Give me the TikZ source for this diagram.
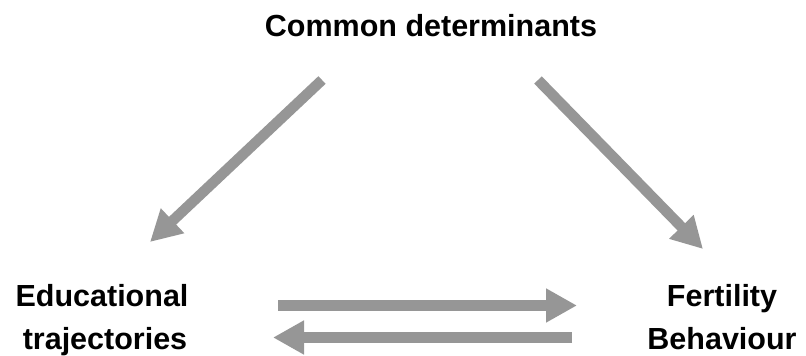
\documentclass[tikz,border=0pt]{standalone}
\usepackage{fontspec}
\setmainfont{Liberation Sans}
\usetikzlibrary{arrows.meta}
\definecolor{arrowgray}{HTML}{969696}
\tikzset{
  label/.style={font=\bfseries\fontsize{30.5}{44}\selectfont, inner sep=0pt, anchor=base},
  flow/.style={draw=arrowgray, line width=10.5pt, line cap=butt,
    -{Triangle[width=32pt,length=31pt]}},
}
\begin{document}
\begin{tikzpicture}[x=1pt,y=-1pt]
  \useasboundingbox (0,0) rectangle (806,356);

  % labels
  \node[label] (common) at (431,36) {Common determinants};
  \node[label] (edu1) at (102,306) {Educational};
  \node[label] (edu2) at (105,349) {trajectories};
  \node[label] (fer1) at (722,306) {Fertility};
  \node[label] (fer2) at (722,349) {Behaviour};

  % arrow end points
  \coordinate (cl) at (322,80);
  \coordinate (el) at (150,242);
  \coordinate (cr) at (538,80);
  \coordinate (fr) at (703,249);
  \coordinate (ea) at (278,305.5);
  \coordinate (fa) at (577,305.5);
  \coordinate (fb) at (572,337.5);
  \coordinate (eb) at (273,337.5);

  % influences
  \draw[flow] (cl) -- (el);
  \draw[flow] (cr) -- (fr);
  \draw[flow] (ea) -- (fa);
  \draw[flow] (fb) -- (eb);
\end{tikzpicture}
\end{document}
